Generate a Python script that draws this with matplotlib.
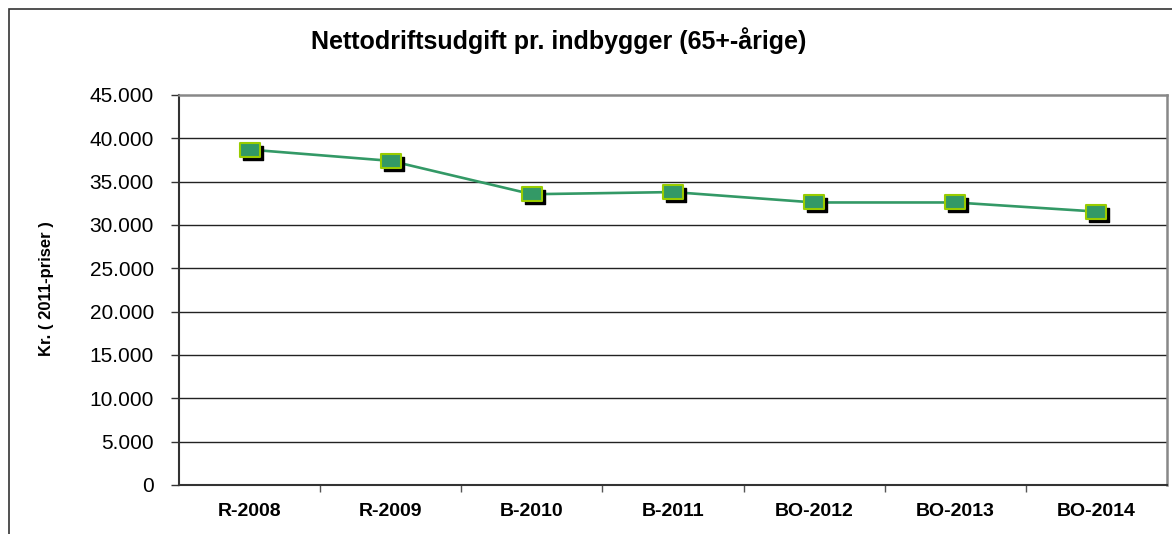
import numpy as np
import matplotlib
matplotlib.use('Agg')
import matplotlib.pyplot as plt
from matplotlib.path import Path
from matplotlib.patches import Rectangle
from matplotlib import transforms
from matplotlib.ticker import FuncFormatter, FixedLocator

# data
categories = ['R-2008', 'R-2009', 'B-2010', 'B-2011', 'BO-2012', 'BO-2013', 'BO-2014']
kr_per_citizen = [38700, 37400, 33550, 33800, 32600, 32600, 31550]

title = 'Nettodriftsudgift pr. indbygger (65+-årige)'
ylabel = 'Kr. ( 2011-priser )'

plt.rcParams['font.family'] = ['Liberation Sans', 'DejaVu Sans']

W, H = 1172, 534
fig = plt.figure(figsize=(W/100, H/100), dpi=100)
ax = fig.add_axes([179/W, 1 - 485/H, 988/W, 390/H])

# outer chart frame (runs past right/bottom edge of the crop)
fig.add_artist(Rectangle((9/W, -0.05), 1.1, 1 - 9/H + 0.05, transform=fig.transFigure,
                         fill=False, ec='#333333', lw=1.2))

x = np.arange(len(categories))

# rectangular marker, wider than tall
box = Path([(-1.45, -1), (1.45, -1), (1.45, 1), (-1.45, 1), (-1.45, -1)],
           [Path.MOVETO, Path.LINETO, Path.LINETO, Path.LINETO, Path.CLOSEPOLY])

ax.plot(x, kr_per_citizen, color='#339966', lw=1.9, zorder=3)
shadow = transforms.offset_copy(ax.transData, fig=fig, x=3, y=-3, units='dots')
ax.plot(x, kr_per_citizen, ls='none', marker=box, ms=13.7, mfc='black', mec='black',
        mew=1, transform=shadow, zorder=4)
ax.plot(x, kr_per_citizen, ls='none', marker=box, ms=13.7, mfc='#339966', mec='#99CC00',
        mew=1.5, zorder=5)

ax.set_xlim(-0.5, len(categories) - 0.5)
ax.set_ylim(0, 45000)
ax.set_yticks(np.arange(0, 45001, 5000))
ax.yaxis.set_major_formatter(FuncFormatter(lambda v, p: f'{int(v):,}'.replace(',', '.')))
ax.tick_params(axis='y', length=6, width=1, color='#333333', pad=12, labelsize=15)

ax.set_xticks(x)
ax.set_xticklabels(categories, fontweight='bold', fontsize=14)
ax.xaxis.set_minor_locator(FixedLocator(np.arange(0.5, len(categories) - 0.5, 1)))
ax.tick_params(axis='x', which='major', length=0, pad=13)
ax.tick_params(axis='x', which='minor', length=5, width=1, color='#555555')

for v in np.arange(5000, 45000, 5000):
    ax.axhline(v, color='#222222', lw=1.0, zorder=1)

for side in ['left', 'bottom']:
    ax.spines[side].set_color('#333333')
    ax.spines[side].set_linewidth(1.5)
for side in ['top', 'right']:
    ax.spines[side].set_color('#888888')
    ax.spines[side].set_linewidth(1.8)

fig.text(47/W, 1 - 289/H, ylabel, rotation=90, ha='center', va='center',
         fontsize=12, fontweight='bold',
         family=['Liberation Sans Narrow', 'Liberation Sans', 'DejaVu Sans'])
fig.text(559/W, 1 - 41/H, title, ha='center', va='center', fontsize=18, fontweight='bold')

fig.savefig('out.png', dpi=100)
